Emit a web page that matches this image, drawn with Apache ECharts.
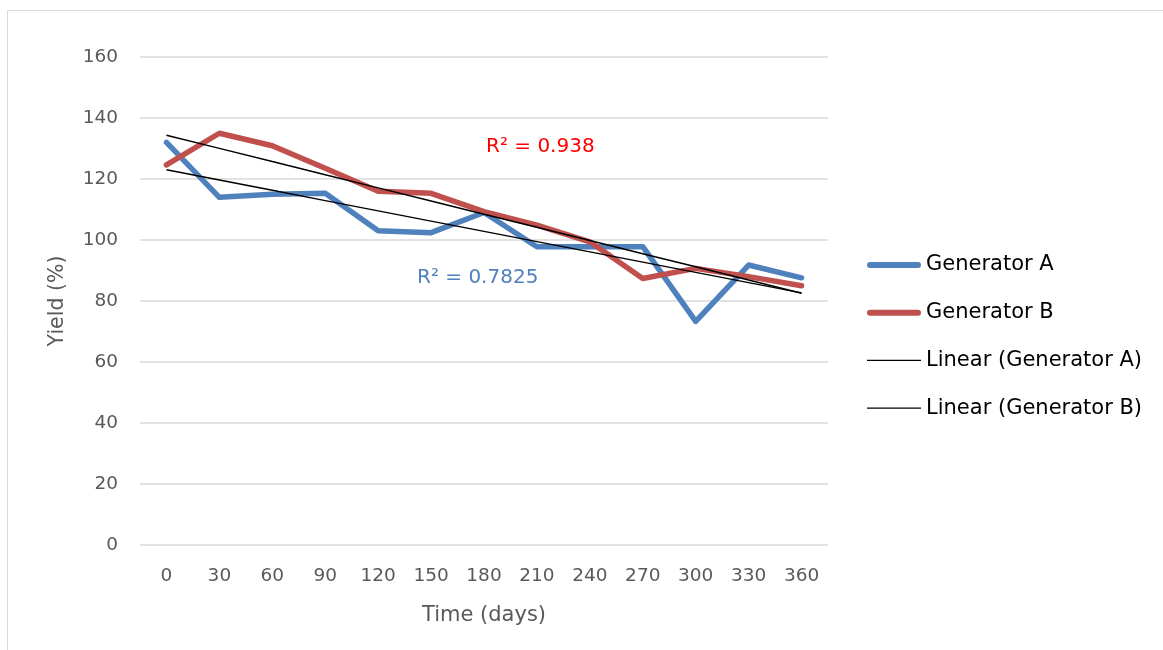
<!DOCTYPE html>
<html>
<head>
<meta charset="utf-8">
<script src="https://cdn.jsdelivr.net/npm/echarts@6/dist/echarts.min.js"></script>
<style>html,body{margin:0;padding:0;background:#fff}#c{width:1163px;height:650px}</style>
</head>
<body>
<div id="c"></div>
<script>
const days = ['0','30','60','90','120','150','180','210','240','270','300','330','360'];
const generatorA = [132, 114, 115, 115.3, 103, 102.4, 109, 97.8, 97.8, 97.8, 73.3, 91.8, 87.6];
const generatorB = [124.6, 135, 130.9, 123.5, 116, 115.3, 109.3, 104.9, 99.4, 87.4, 90.7, 88, 85];
const r2A = 'R² = 0.7825';
const r2B = 'R² = 0.938';

function linearFit(vals) {
  const n = vals.length;
  let sx = 0, sy = 0, sxx = 0, sxy = 0;
  vals.forEach((y, i) => { const x = i + 1; sx += x; sy += y; sxx += x * x; sxy += x * y; });
  const b = (n * sxy - sx * sy) / (n * sxx - sx * sx);
  const a = (sy - b * sx) / n;
  return vals.map((_, i) => +(a + b * (i + 1)).toFixed(3));
}
const trendA = linearFit(generatorA);
const trendB = linearFit(generatorB);

const font = 'DejaVu Sans';
// legend icons: invisible corner points keep the box, the visible bar is centred
const thickIcon = 'path://M0,0L0.001,0M0,22L0.001,22M3,8H51A3,3 0 0 1 51,14H3A3,3 0 0 1 3,8Z';
const thinIcon = 'path://M0,0L0.001,0M0,22L0.001,22M0,10.3H54V11.7H0Z';

const chart = echarts.init(document.getElementById('c'));
chart.setOption({
  animation: false,
  textStyle: { fontFamily: font },
  grid: { left: 140, right: 335, top: 57, bottom: 105 },
  graphic: [
    { type: 'rect', shape: { x: 7.5, y: 10.5, width: 1170, height: 660 }, style: { fill: 'none', stroke: '#d9d9d9', lineWidth: 1 }, z: -1 },
    { type: 'text', left: 486, top: 137, style: { text: r2B, fill: '#ff0000', font: '20px "DejaVu Sans"' } },
    { type: 'text', left: 417, top: 268, style: { text: r2A, fill: '#4f81bd', font: '20px "DejaVu Sans"' } }
  ],
  legend: {
    orient: 'vertical',
    left: 862,
    top: 249,
    itemWidth: 54,
    itemHeight: 22,
    itemGap: 25.7,
    textStyle: { fontSize: 21, lineHeight: 22, color: '#000', fontFamily: font },
    data: [
      { name: 'Generator A', icon: thickIcon },
      { name: 'Generator B', icon: thickIcon },
      { name: 'Linear (Generator A)', icon: thinIcon },
      { name: 'Linear (Generator B)', icon: thinIcon }
    ]
  },
  xAxis: {
    type: 'category',
    data: days,
    boundaryGap: true,
    axisLine: { show: false },
    axisTick: { show: false },
    axisLabel: { fontSize: 18.5, color: '#595959', margin: 22 },
    name: 'Time (days)',
    nameLocation: 'middle',
    nameGap: 60,
    nameTextStyle: { fontSize: 21, color: '#595959' }
  },
  yAxis: {
    type: 'value',
    min: 0,
    max: 160,
    interval: 20,
    axisLine: { show: false },
    axisTick: { show: false },
    axisLabel: { fontSize: 18.5, color: '#595959', margin: 22 },
    splitLine: { lineStyle: { color: '#d9d9d9', width: 1.5 } },
    name: 'Yield (%)',
    nameLocation: 'middle',
    nameGap: 72,
    nameTextStyle: { fontSize: 20.5, color: '#595959' }
  },
  series: [
    { name: 'Generator A', type: 'line', data: generatorA, symbol: 'none', color: '#4f81bd',
      lineStyle: { width: 5.5, color: '#4f81bd', cap: 'round', join: 'round' }, z: 2 },
    { name: 'Generator B', type: 'line', data: generatorB, symbol: 'none', color: '#c0504d',
      lineStyle: { width: 5.5, color: '#c0504d', cap: 'round', join: 'round' }, z: 2 },
    { name: 'Linear (Generator A)', type: 'line', data: trendA, symbol: 'none', color: '#000',
      lineStyle: { width: 1.5, color: '#000' }, z: 3 },
    { name: 'Linear (Generator B)', type: 'line', data: trendB, symbol: 'none', color: '#000',
      lineStyle: { width: 1.5, color: '#000' }, z: 3 }
  ]
});
</script>
</body>
</html>
